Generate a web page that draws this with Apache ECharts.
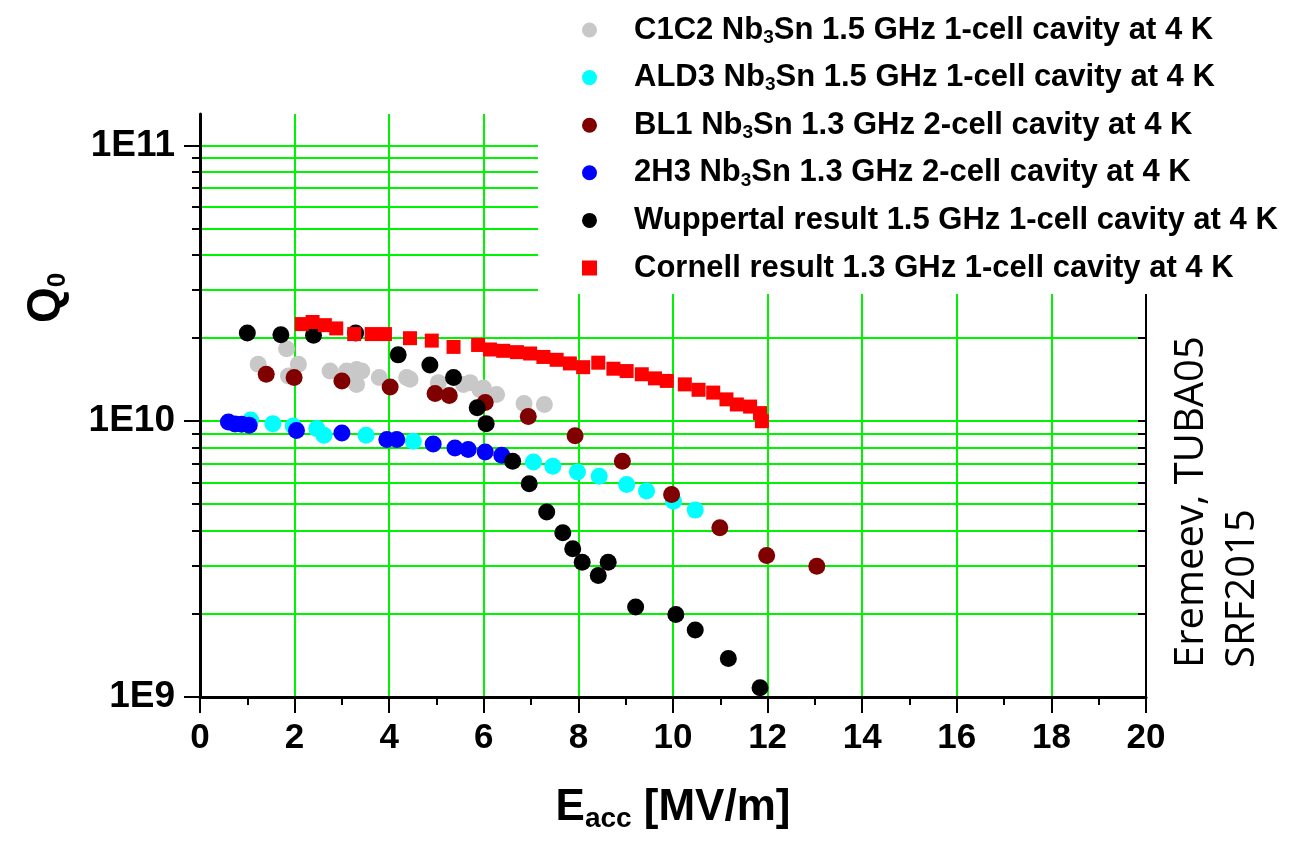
<!DOCTYPE html>
<html>
<head>
<meta charset="utf-8">
<script src="https://cdn.jsdelivr.net/npm/echarts@6/dist/echarts.min.js"></script>
<style>
html,body{margin:0;padding:0;background:#fff;}
#chart{width:1312px;height:841px;}
</style>
</head>
<body>
<div id="chart"></div>
<script>
// ---- data: [E_acc (MV/m), Q0] ----
const c1c2 = [[1.23,1.61e10],[1.83,1.83e10],[1.87,1.46e10],[2.08,1.61e10],[2.75,1.52e10],[3.10,1.52e10],[3.31,1.54e10],[3.31,1.36e10],[3.42,1.52e10],[3.79,1.44e10],[4.37,1.44e10],[4.44,1.42e10],[5.04,1.38e10],[5.57,1.36e10],[5.71,1.38e10],[5.92,1.30e10],[5.99,1.32e10],[6.27,1.25e10],[6.85,1.16e10],[7.28,1.15e10]];
const ald3 = [[1.07,1.01e10],[1.54,0.98e10],[1.97,0.96e10],[2.47,0.94e10],[2.62,0.89e10],[3.51,0.89e10],[4.51,0.846e10],[7.05,0.712e10],[7.46,0.687e10],[7.98,0.655e10],[8.44,0.632e10],[9.02,0.59e10],[9.44,0.558e10],[10.01,0.513e10],[10.47,0.476e10]];
const bl1 = [[1.40,1.48e10],[1.99,1.44e10],[3.00,1.40e10],[4.02,1.33e10],[4.97,1.26e10],[5.27,1.24e10],[6.03,1.17e10],[6.94,1.04e10],[7.93,0.885e10],[8.93,0.716e10],[9.97,0.542e10],[10.99,0.411e10],[11.98,0.326e10],[13.04,0.298e10]];
const h2h3 = [[0.60,0.994e10],[0.74,0.978e10],[0.88,0.975e10],[1.04,0.967e10],[2.04,0.925e10],[3.00,0.907e10],[3.95,0.858e10],[4.16,0.858e10],[4.93,0.827e10],[5.39,0.80e10],[5.67,0.79e10],[6.03,0.774e10],[6.38,0.753e10]];
const wuppertal = [[1.00,2.09e10],[1.71,2.06e10],[2.40,2.05e10],[3.29,2.09e10],[4.19,1.74e10],[4.86,1.60e10],[5.36,1.44e10],[5.86,1.12e10],[6.05,0.98e10],[6.61,7.16e9],[6.96,5.93e9],[7.33,4.69e9],[7.67,3.94e9],[7.88,3.45e9],[8.08,3.08e9],[8.42,2.76e9],[8.63,3.08e9],[9.21,2.12e9],[10.06,1.99e9],[10.47,1.75e9],[11.17,1.38e9],[11.84,1.08e9]];
const cornell = [[2.15,2.25e10],[2.38,2.29e10],[2.64,2.23e10],[2.88,2.17e10],[3.26,2.07e10],[3.63,2.07e10],[3.91,2.07e10],[4.44,2.00e10],[4.90,1.96e10],[5.36,1.86e10],[5.88,1.89e10],[6.13,1.82e10],[6.41,1.80e10],[6.70,1.78e10],[6.98,1.76e10],[7.26,1.71e10],[7.54,1.67e10],[7.82,1.62e10],[8.10,1.57e10],[8.42,1.63e10],[8.74,1.55e10],[9.02,1.52e10],[9.34,1.48e10],[9.62,1.43e10],[9.87,1.40e10],[10.25,1.36e10],[10.54,1.30e10],[10.85,1.27e10],[11.13,1.20e10],[11.35,1.15e10],[11.63,1.13e10],[11.84,1.07e10],[11.88,1.00e10]];

const seriesNames = [
  'C1C2 Nb3Sn 1.5 GHz 1-cell cavity at 4 K',
  'ALD3 Nb3Sn 1.5 GHz 1-cell cavity at 4 K',
  'BL1 Nb3Sn 1.3 GHz 2-cell cavity at 4 K',
  '2H3 Nb3Sn 1.3 GHz 2-cell cavity at 4 K',
  'Wuppertal result 1.5 GHz 1-cell cavity at 4 K',
  'Cornell result 1.3 GHz 1-cell cavity at 4 K'
];
const seriesColors = ['#c8c8c8','#00ffff','#800000','#0000ff','#000000','#ff0000'];

// ---- axis ticks ----
const yMin = 1e9, yMax = 1.3e11;
const yMajorTicks = [1e9, 1e10, 1e11];
const yMajorLabels = ['1E9', '1E10', '1E11'];
const yAllTicks = [1e9,2e9,3e9,4e9,5e9,6e9,7e9,8e9,9e9,1e10,2e10,3e10,4e10,5e10,6e10,7e10,8e10,9e10,1e11];
const xMin = 0, xMax = 20, xInterval = 2;

const LMIN = Math.log10(yMin), LMAX = Math.log10(yMax);
const majLog = yMajorTicks.map(v => Math.log10(v));
const allLog = yAllTicks.map(v => Math.log10(v));

const FONT = 'Liberation Sans';
const GREEN = '#00f400';

const chart = echarts.init(document.getElementById('chart'));

const datasets = [c1c2, ald3, bl1, h2h3, wuppertal, cornell];
const series = datasets.map((d, i) => ({
  name: seriesNames[i],
  type: 'scatter',
  xAxisIndex: 0,
  yAxisIndex: 0,
  data: d,
  symbol: i === 5 ? 'rect' : 'circle',
  symbolSize: i === 5 ? 14 : 17,
  itemStyle: { color: seriesColors[i], opacity: 1 },
  emphasis: { disabled: true },
  silent: true
}));

const option = {
  animation: false,
  backgroundColor: '#fff',
  grid: { left: 200, right: 166, top: 114, bottom: 144, containLabel: false },
  xAxis: {
    type: 'value', min: xMin, max: xMax, interval: xInterval,
    axisLine: { show: true, onZero: false, lineStyle: { color: '#000', width: 3 } },
    axisTick: { show: true, inside: false, length: 16, lineStyle: { color: '#000', width: 2 } },
    minorTick: { show: true, splitNumber: 2, length: 8, lineStyle: { color: '#000', width: 2 } },
    axisLabel: { fontFamily: FONT, fontWeight: 'bold', fontSize: 35, color: '#000', margin: 24 },
    splitLine: { show: true, lineStyle: { color: GREEN, width: 2 } },
    name: '{e|E}{s|acc}{e| [MV/m]}',
    nameLocation: 'middle',
    nameGap: 86,
    nameTextStyle: {
      rich: {
        e: { fontFamily: FONT, fontWeight: 'bold', fontSize: 44, color: '#000', lineHeight: 50 },
        s: { fontFamily: FONT, fontWeight: 'bold', fontSize: 28, color: '#000', lineHeight: 50, verticalAlign: 'bottom', padding: [24, 0, 0, 0] }
      }
    }
  },
  yAxis: [
    { type: 'log', min: yMin, max: yMax, position: 'left', show: false },
    {
      type: 'value', min: LMIN, max: LMAX, position: 'left',
      axisLine: { show: true, onZero: false, lineStyle: { color: '#000', width: 3 } },
      axisTick: { show: true, customValues: majLog, length: 16, lineStyle: { color: '#000', width: 2 } },
      axisLabel: {
        show: true, customValues: majLog, margin: 25,
        formatter: v => yMajorLabels[majLog.findIndex(m => Math.abs(m - v) < 1e-6)] || '',
        fontFamily: FONT, fontWeight: 'bold', fontSize: 37, color: '#000'
      },
      splitLine: { show: false }
    },
    {
      type: 'value', min: LMIN, max: LMAX, position: 'left',
      axisLine: { show: false },
      axisTick: { show: true, customValues: allLog, length: 8, lineStyle: { color: '#000', width: 2 } },
      axisLabel: { show: false },
      splitLine: { show: true, lineStyle: { color: GREEN, width: 2 } }
    },
    {
      type: 'value', min: LMIN, max: LMAX, position: 'right',
      axisLine: { show: true, onZero: false, lineStyle: { color: '#000', width: 2 } },
      axisTick: { show: true, inside: true, customValues: allLog, length: 8, lineStyle: { color: '#000', width: 2 } },
      axisLabel: { show: false },
      splitLine: { show: false }
    }
  ],
  legend: {
    z: 200,
    orient: 'vertical',
    left: 577,
    top: 8,
    itemWidth: 15,
    itemHeight: 15,
    itemGap: 13.6,
    selectedMode: false,
    data: seriesNames.map(n => ({ name: n })),
    formatter: name => '{p| }' + name.replace('Nb3Sn', 'Nb{s|3}Sn'),
    textStyle: {
      fontFamily: FONT, fontWeight: 'bold', fontSize: 31, color: '#000', lineHeight: 34,
      rich: {
        p: { width: 32, fontSize: 31, lineHeight: 34 },
        s: { fontFamily: FONT, fontWeight: 'bold', fontSize: 19, color: '#000', lineHeight: 34, verticalAlign: 'bottom', padding: [14, 0, 0, 0] }
      }
    }
  },
  graphic: [
    { type: 'rect', z: 100, silent: true, shape: { x: 538, y: 0, width: 774, height: 294 }, style: { fill: '#fff' } },
    {
      type: 'text', z: 150, x: 46, y: 298, rotation: Math.PI / 2, silent: true,
      style: {
        text: '{q|Q}{s|0}', align: 'center', verticalAlign: 'middle',
        rich: {
          q: { fontFamily: FONT, fontWeight: 'bold', fontSize: 46, fill: '#000', lineHeight: 50 },
          s: { fontFamily: FONT, fontWeight: 'bold', fontSize: 26, fill: '#000', lineHeight: 50, verticalAlign: 'bottom', padding: [24, 0, 0, 0] }
        }
      }
    },
    {
      type: 'text', z: 150, x: 1192, y: 668, rotation: Math.PI / 2, silent: true,
      style: { text: 'Eremeev, TUBA05', fontFamily: 'Open Sans', fontSize: 40, fill: '#000', align: 'left', verticalAlign: 'middle' }
    },
    {
      type: 'text', z: 150, x: 1243, y: 668, rotation: Math.PI / 2, silent: true,
      style: { text: 'SRF2015', fontFamily: 'Open Sans', fontSize: 40, fill: '#000', align: 'left', verticalAlign: 'middle' }
    }
  ],
  series: series
};

chart.setOption(option);
</script>
</body>
</html>
